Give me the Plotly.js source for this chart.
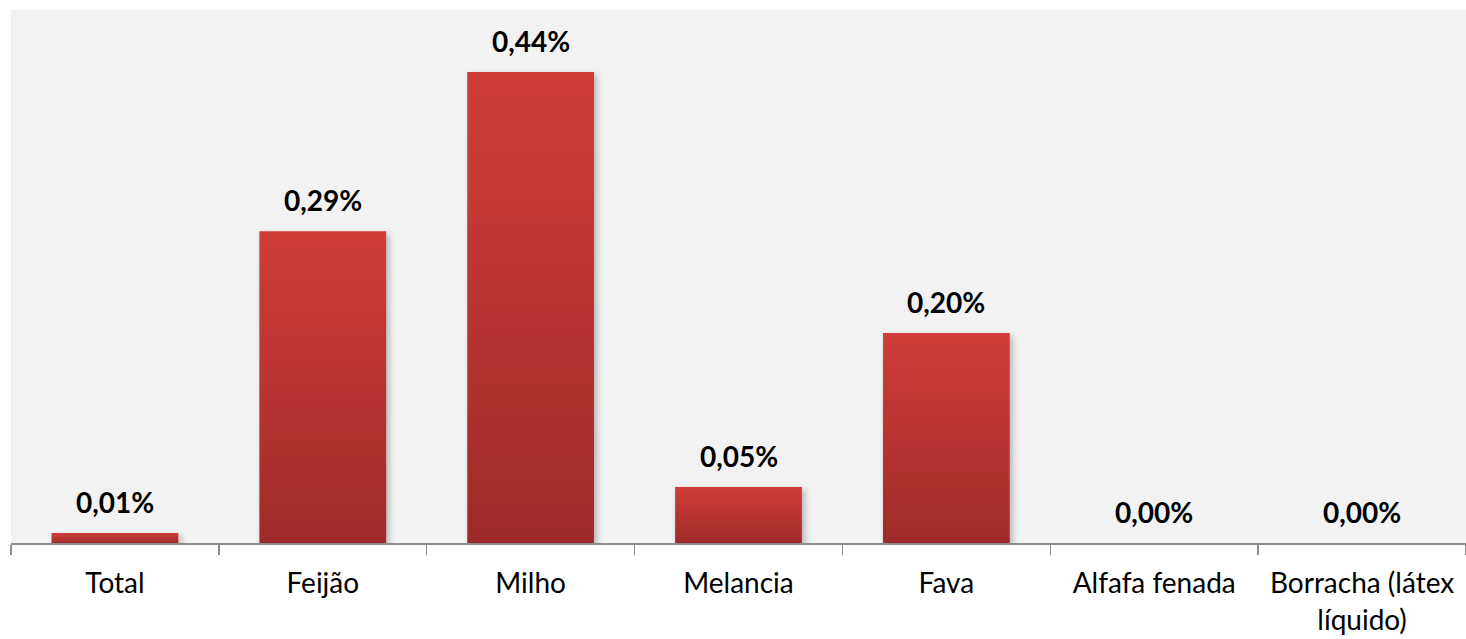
<!DOCTYPE html>
<html>
<head>
<meta charset="utf-8">
<script src="https://cdn.plot.ly/plotly-3.0.1.min.js"></script>
<style>
  html, body { margin: 0; padding: 0; background: #ffffff; }
  #chart { width: 1466px; height: 639px; }
</style>
</head>
<body>
<div id="chart"></div>
<script>
// Data
const categories = ["Total", "Feijão", "Milho", "Melancia", "Fava", "Alfafa fenada", "Borracha (látex<br>líquido)"];
const values = [0.0094, 0.2925, 0.4418, 0.0525, 0.197, 0.0, 0.0]; // percent

function fmt(v) { return v.toFixed(2).replace('.', ',') + '%'; }

const trace = {
  type: 'bar',
  x: categories,
  y: values,
  width: 0.61,
  marker: { color: '#B83332', line: { width: 0 } },
  hoverinfo: 'none'
};

const annotations = categories.map((c, i) => ({
  x: c,
  y: values[i],
  xref: 'x',
  yref: 'y',
  text: '<b>' + fmt(values[i]) + '</b>',
  showarrow: false,
  yanchor: 'bottom',
  yshift: 12,
  font: { family: 'Lato, "Open Sans", sans-serif', size: 28, color: '#000000' }
}));

const layout = {
  width: 1466,
  height: 639,
  margin: { l: 11, r: 0, t: 10, b: 96 },
  paper_bgcolor: '#ffffff',
  plot_bgcolor: '#F2F2F2',
  showlegend: false,
  bargap: 0.39,
  xaxis: {
    type: 'category',
    showline: true,
    linecolor: '#8C8C8C',
    linewidth: 1.5,
    ticks: 'outside',
    tickson: 'boundaries',
    ticklen: 10,
    tickcolor: '#8C8C8C',
    tickwidth: 1.5,
    ticklabelstandoff: 15,
    showgrid: false,
    tickfont: { family: 'Lato, "Open Sans", sans-serif', size: 28, color: '#000000' },
    fixedrange: true
  },
  yaxis: {
    range: [0, 0.5],
    showgrid: false,
    zeroline: false,
    showticklabels: false,
    ticks: '',
    showline: false,
    fixedrange: true
  },
  annotations: annotations
};

Plotly.newPlot('chart', [trace], layout, { displayModeBar: false, staticPlot: true }).then(gd => {
  const svg = gd.querySelector('.main-svg');
  const ns = 'http://www.w3.org/2000/svg';
  let defs = svg.querySelector('defs');
  if (!defs) { defs = document.createElementNS(ns, 'defs'); svg.insertBefore(defs, svg.firstChild); }
  const grad = document.createElementNS(ns, 'linearGradient');
  grad.setAttribute('id', 'barGrad');
  grad.setAttribute('x1', '0'); grad.setAttribute('y1', '0');
  grad.setAttribute('x2', '0'); grad.setAttribute('y2', '1');
  [['0', '#D03C39'], ['1', '#9E2B2A']].forEach(([o, c]) => {
    const s = document.createElementNS(ns, 'stop');
    s.setAttribute('offset', o); s.setAttribute('stop-color', c);
    grad.appendChild(s);
  });
  defs.appendChild(grad);
  const filt = document.createElementNS(ns, 'filter');
  filt.setAttribute('id', 'barShadow');
  filt.setAttribute('x', '-10%'); filt.setAttribute('y', '-10%');
  filt.setAttribute('width', '130%'); filt.setAttribute('height', '130%');
  filt.innerHTML = '<feDropShadow dx="3" dy="3" stdDeviation="3" flood-color="#000" flood-opacity="0.25"/>';
  defs.appendChild(filt);
  gd.querySelectorAll('.barlayer .point path').forEach(p => {
    p.style.fill = 'url(#barGrad)';
    p.setAttribute('filter', 'url(#barShadow)');
  });
});
</script>
</body>
</html>
